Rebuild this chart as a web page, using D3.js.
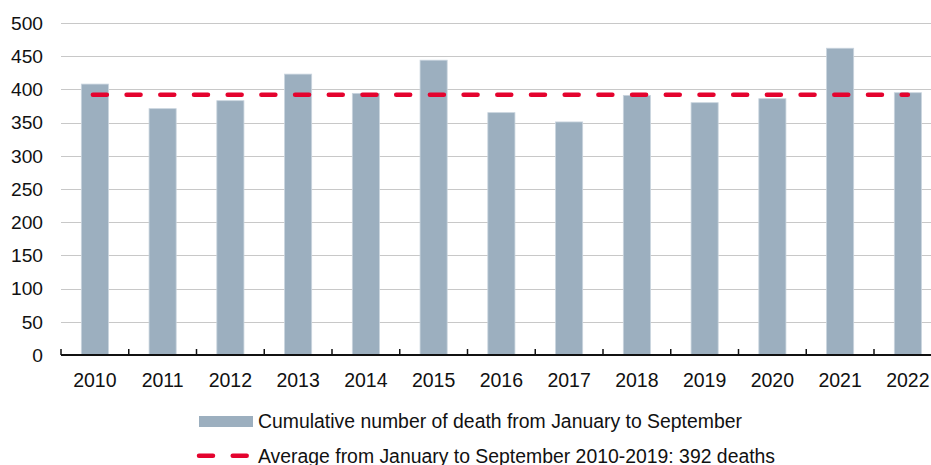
<!DOCTYPE html>
<html>
<head>
<meta charset="utf-8">
<script src="https://cdn.jsdelivr.net/npm/d3@7/dist/d3.min.js"></script>
<style>
  body { margin: 0; background: #fff; }
  text { font-family: "Liberation Sans", Arial, sans-serif; fill: #111; }
</style>
</head>
<body>
<div id="chart"></div>
<script>
var years = ["2010", "2011", "2012", "2013", "2014", "2015", "2016", "2017", "2018", "2019", "2020", "2021", "2022"];
var deaths = [408, 371, 383, 423, 394, 444, 365, 351, 391, 380, 386, 462, 395];
var average = 392;
var yTicks = [0, 50, 100, 150, 200, 250, 300, 350, 400, 450, 500];
var barLabel = "Cumulative number of death from January to September";
var avgLabel = "Average from January to September 2010-2019: 392 deaths";

var width = 931, height = 465;
var margin = { left: 61, top: 23, bottom: 355 };

var svg = d3.select("#chart")
    .append("svg")
    .attr("width", width)
    .attr("height", height);

var x = d3.scaleBand()
    .domain(years)
    .range([margin.left, 941.75])
    .paddingInner(0.6)
    .paddingOuter(0.3);

var y = d3.scaleLinear()
    .domain([0, 500])
    .range([margin.bottom, margin.top]);

// gridlines
svg.append("g")
    .selectAll("line")
    .data(yTicks.slice(1))
    .enter()
    .append("line")
    .attr("x1", margin.left)
    .attr("x2", width)
    .attr("y1", function (d) { return Math.round(y(d)) + 0.5; })
    .attr("y2", function (d) { return Math.round(y(d)) + 0.5; })
    .attr("stroke", "#c8c8c8")
    .attr("stroke-width", 1);

// y labels
svg.append("g")
    .selectAll("text")
    .data(yTicks)
    .enter()
    .append("text")
    .attr("x", 43)
    .attr("y", function (d) { return y(d); })
    .attr("dy", "0.35em")
    .attr("text-anchor", "end")
    .attr("font-size", 19.2)
    .text(function (d) { return d; });

// bars
svg.append("g")
    .selectAll("rect")
    .data(deaths)
    .enter()
    .append("rect")
    .attr("x", function (d, i) { return x(years[i]); })
    .attr("width", x.bandwidth())
    .attr("y", function (d) { return y(d); })
    .attr("height", function (d) { return y(0) - y(d); })
    .attr("fill", "#9cafbf")
    .attr("stroke", "#c9d4de")
    .attr("stroke-width", 0.8);

// x axis
var axisG = svg.append("g")
    .attr("transform", "translate(0," + y(0) + ")");
axisG.append("line")
    .attr("x1", margin.left)
    .attr("x2", width)
    .attr("stroke", "#111")
    .attr("stroke-width", 2);
axisG.selectAll(".tk")
    .data(years)
    .enter()
    .append("line")
    .attr("class", "tk")
    .attr("x1", function (d) { return x(d) - x.step() * x.paddingInner() / 2; })
    .attr("x2", function (d) { return x(d) - x.step() * x.paddingInner() / 2; })
    .attr("y1", 0)
    .attr("y2", -6)
    .attr("stroke", "#111")
    .attr("stroke-width", 1.5);
axisG.selectAll(".lbl")
    .data(years)
    .enter()
    .append("text")
    .attr("class", "lbl")
    .attr("x", function (d) { return x(d) + x.bandwidth() / 2; })
    .attr("y", 32)
    .attr("text-anchor", "middle")
    .attr("font-size", 19.5)
    .text(function (d) { return d; });

// average line
svg.append("line")
    .attr("x1", x(years[0]) + x.bandwidth() / 2 - 2)
    .attr("x2", x(years[years.length - 1]) + x.bandwidth() / 2)
    .attr("y1", y(average))
    .attr("y2", y(average))
    .attr("stroke", "#e4032e")
    .attr("stroke-width", 4.5)
    .attr("stroke-linecap", "round")
    .attr("stroke-dasharray", "14,19.7");

// legend
svg.append("rect")
    .attr("x", 199)
    .attr("y", 416)
    .attr("width", 54)
    .attr("height", 11)
    .attr("fill", "#9cafbf");
svg.append("text")
    .attr("x", 258)
    .attr("y", 428)
    .attr("font-size", 19.4)
    .text(barLabel);

svg.append("line")
    .attr("x1", 199)
    .attr("x2", 248)
    .attr("y1", 455.7)
    .attr("y2", 455.7)
    .attr("stroke", "#e4032e")
    .attr("stroke-width", 4.5)
    .attr("stroke-linecap", "round")
    .attr("stroke-dasharray", "14,19.7");
svg.append("text")
    .attr("x", 258)
    .attr("y", 463)
    .attr("font-size", 19.4)
    .text(avgLabel);
</script>
</body>
</html>
